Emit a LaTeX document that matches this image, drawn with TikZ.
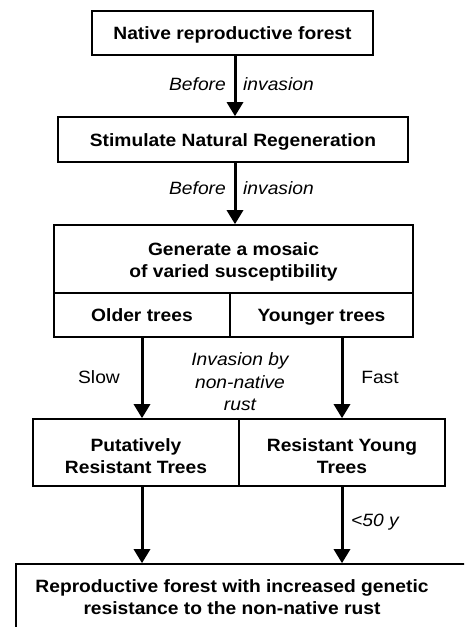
\documentclass[tikz,border=0pt]{standalone}
\usepackage{fontspec}
\setmainfont{Liberation Sans}[FakeStretch=1.08]
\usetikzlibrary{arrows.meta}
\begin{document}
\begin{tikzpicture}[x=1pt,y=-1pt,
  every node/.style={font=\fontsize{17.8}{22}\selectfont, inner sep=0pt},
  frame/.style={draw, line width=1.6pt},
  box/.style={frame, align=center, font=\fontsize{17.8}{22}\selectfont\bfseries},
  btext/.style={align=center, font=\fontsize{17.8}{22}\selectfont\bfseries},
  oneline/.style={text height=15pt, text depth=1.6pt},
  arr/.style={line width=3pt, -{Triangle[width=16pt,length=14pt]}},
  lab/.style={font=\fontsize{17.8}{22.5}\selectfont\itshape, align=center},
  plain/.style={font=\fontsize{17.8}{22.5}\selectfont}
]
\useasboundingbox (0,0) rectangle (464,627);
\clip (0,0) rectangle (464,627);
\fill[white] (0,0) rectangle (464,627);

\node[box, oneline, minimum width=281pt, minimum height=44pt] (b1) at (232.5,33) {Native reproductive forest};
\node[box, oneline, minimum width=350pt, minimum height=45pt] (b2) at (233,139.5) {Stimulate Natural Regeneration};
\node[frame, minimum width=359pt, minimum height=68pt] (b3) at (233.5,259) {};
\node[btext] (b3t) at (233.5,262) {Generate a mosaic\\of varied susceptibility};
\node[box, oneline, minimum width=176pt, minimum height=44pt] (old) at (142,315) {Older trees};
\node[box, oneline, minimum width=183pt, minimum height=44pt] (young) at (321.5,315) {Younger trees};
\node[frame, minimum width=206pt, minimum height=67pt] (put) at (136,452.5) {};
\node[btext] (putt) at (136,456) {Putatively\\Resistant Trees};
\node[frame, minimum width=206pt, minimum height=67pt] (resy) at (342,452.5) {};
\node[btext] (resyt) at (342,456) {Resistant Young\\Trees};
\node[frame, minimum width=464pt, minimum height=80pt] (outbox) at (248,604) {};
\node[btext] (out) at (232,597) {Reproductive forest with increased genetic\\resistance to the non-native rust};

\coordinate (ax) at (235,0);
\draw[arr] (b1.south -| ax) -- (b2.north -| ax);
\draw[arr] (b2.south -| ax) -- (b3.north -| ax);
\draw[arr] (old.south) -- (old.south |- put.north);
\draw[arr] (resy.north |- young.south) -- (resy.north);
\draw[arr] (old.south |- put.south) -- (old.south |- outbox.north);
\draw[arr] (resy.south) -- (resy.south |- outbox.north);

\node[lab, oneline, anchor=east] (l1a) at (226,84) {Before};
\node[lab, oneline, anchor=west] (l1b) at (243,84) {invasion};
\node[lab, oneline, anchor=east] (l2a) at (226,188) {Before};
\node[lab, oneline, anchor=west] (l2b) at (243,188) {invasion};
\node[plain, oneline] (slow) at (99,377) {Slow};
\node[plain, oneline] (fast) at (380,377) {Fast};
\node[lab] (inv) at (240,382) {Invasion by\\non-native\\rust};
\node[lab, oneline, anchor=west] (y50) at (351,520) {<50 y};
\end{tikzpicture}
\end{document}
